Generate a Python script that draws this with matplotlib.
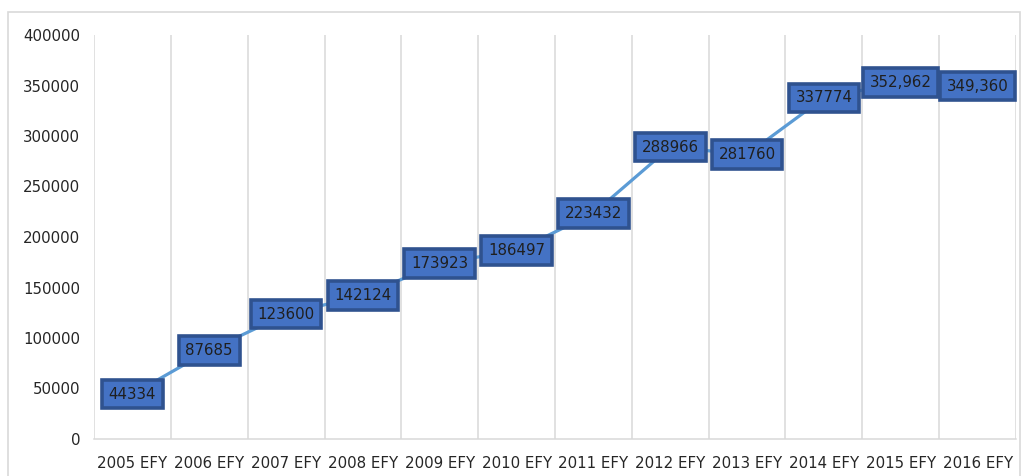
import matplotlib.pyplot as plt
from matplotlib.patches import Rectangle

plt.rcParams['font.family'] = ['DejaVu Sans']

# data
years = ["2005 EFY", "2006 EFY", "2007 EFY", "2008 EFY", "2009 EFY", "2010 EFY",
         "2011 EFY", "2012 EFY", "2013 EFY", "2014 EFY", "2015 EFY", "2016 EFY"]
values = [44334, 87685, 123600, 142124, 173923, 186497,
          223432, 288966, 281760, 337774, 352962, 349360]
labels = ["44334", "87685", "123600", "142124", "173923", "186497",
          "223432", "288966", "281760", "337774", "352,962", "349,360"]

fig = plt.figure(figsize=(10.28, 4.76), dpi=100)
ax = fig.add_axes([94 / 1028, 37 / 476, 922 / 1028, 404 / 476])

# outer chart frame
fig.patches.append(Rectangle((8 / 1028, -0.01), 1012 / 1028, (476 - 12) / 476 + 0.01,
                             transform=fig.transFigure, fill=False,
                             edgecolor="#d9d9d9", linewidth=1.2))

x = list(range(len(years)))
ax.plot(x, values, color="#5b9bd5", linewidth=2.3, zorder=2)

for xi, v, lab in zip(x, values, labels):
    ax.text(xi, v, lab, ha="center", va="center", fontsize=10.8, color="#1f1f1f",
            zorder=3,
            bbox=dict(boxstyle="square,pad=0.45", facecolor="#4472c4",
                      edgecolor="#2f528f", linewidth=2.6))

ax.set_xlim(-0.5, len(years) - 0.5)
ax.set_ylim(0, 400000)
ax.set_yticks(range(0, 400001, 50000))
ax.set_xticks(x)
ax.set_xticklabels(years)
ax.set_xticks([i - 0.5 for i in range(len(years) + 1)], minor=True)
ax.grid(which="minor", axis="x", color="#d9d9d9", linewidth=1.1)
ax.tick_params(which="both", length=0)
ax.tick_params(axis="x", pad=12, labelsize=10.8, labelcolor="#262626")
ax.tick_params(axis="y", pad=10, labelsize=10.8, labelcolor="#262626")

for s in ["top", "right", "left"]:
    ax.spines[s].set_visible(False)
ax.spines["bottom"].set_color("#d9d9d9")
ax.spines["bottom"].set_linewidth(1.1)

fig.savefig("out.png", dpi=100)
